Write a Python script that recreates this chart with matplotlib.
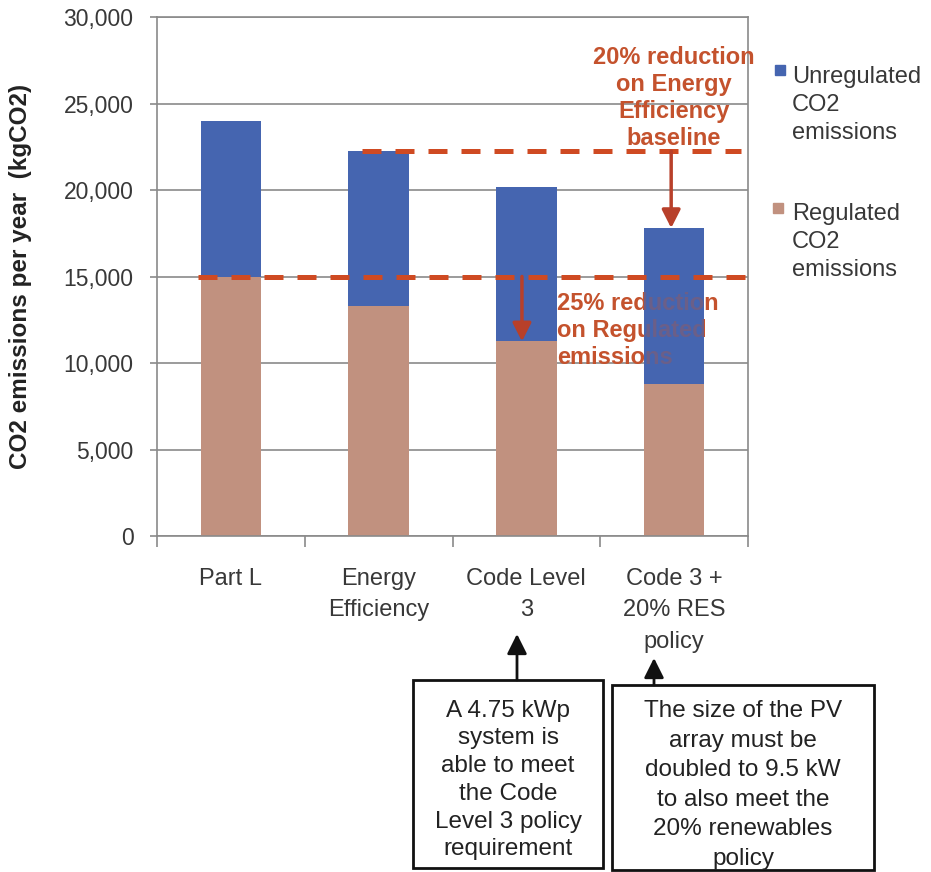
import matplotlib.pyplot as plt
from matplotlib.patches import Rectangle
from matplotlib.ticker import FuncFormatter

plt.rcParams['font.family'] = ['Liberation Sans', 'DejaVu Sans']

# CO2 emissions per year (kgCO2) for each design scenario
scenarios = ["Part L", "Energy\nEfficiency", "Code Level\n3", "Code 3 +\n20% RES\npolicy"]
regulated = [15000, 13300, 11250, 8800]
unregulated = [9000, 8950, 8950, 9000]
series_labels = ["Unregulated\nCO2\nemissions", "Regulated\nCO2\nemissions"]
notes = [
    "A 4.75 kWp\nsystem is\nable to meet\nthe Code\nLevel 3 policy\nrequirement",
    "The size of the PV\narray must be\ndoubled to 9.5 kW\nto also meet the\n20% renewables\npolicy",
]

BLUE = "#4565b0"
TAN = "#c1917f"
RED = "#cf4a22"
RED_TEXT = "#c4522d"
GRID = "#8a8a8a"
INK = "#383838"

W, H = 931, 872


def fx(px):
    return px / W


def fy(py):
    return 1 - py / H


fig = plt.figure(figsize=(W / 100, H / 100), dpi=100)
ax = fig.add_axes([fx(157), fy(536), fx(748) - fx(157), fy(17) - fy(536)])

x = list(range(len(scenarios)))
totals = [r + u for r, u in zip(regulated, unregulated)]
ax.bar(x, regulated, width=0.41, color=TAN, zorder=2)
ax.bar(x, unregulated, width=0.41, bottom=regulated, color=BLUE, zorder=2)

ax.set_xlim(-0.5, 3.5)
ax.set_ylim(0, 30000)
ax.set_yticks(range(0, 30001, 5000))
ax.yaxis.set_major_formatter(FuncFormatter(lambda v, p: f"{v:,.0f}"))
ax.grid(axis="y", color=GRID, lw=1.2, zorder=0)
ax.set_axisbelow(True)
for s in ax.spines.values():
    s.set_color(GRID)
    s.set_linewidth(1.2)

ax.set_xticks(x)
ax.set_xticklabels(scenarios)
ax.set_xticks([i - 0.5 for i in range(len(scenarios) + 1)], minor=True)
ax.tick_params(axis="x", which="major", length=0, pad=23, labelsize=17, labelcolor=INK)
ax.tick_params(axis="x", which="minor", length=8, width=1.2, color=GRID)
ax.tick_params(axis="y", length=5, width=1.2, color=GRID, pad=12, labelsize=16.5, labelcolor=INK)
for t in ax.get_xticklabels():
    t.set_linespacing(1.56)

fig.text(fx(21), fy(276), "CO2 emissions per year  (kgCO2)", rotation=90,
         ha="center", va="center", fontsize=17.5, fontweight="bold", color="#222222")

# baselines: Part L regulated and Energy Efficiency total
ee_total = totals[1]
ax.plot([0.89, 3.45], [ee_total, ee_total], color=RED, lw=3.6, dashes=(3.8, 2.8), zorder=5)
ax.plot([-0.22, 3.48], [regulated[0], regulated[0]], color=RED, lw=3.6, dashes=(3.8, 2.8), zorder=5)

arrow = dict(arrowstyle="-|>,head_length=0.55,head_width=0.28", mutation_scale=20,
             lw=2.5, color="#b8402a", shrinkA=0, shrinkB=0)
ax.annotate("", xy=(2.98, totals[3]), xytext=(2.98, ee_total), arrowprops=arrow, zorder=6)
ax.annotate("", xy=(1.97, regulated[2]), xytext=(1.97, regulated[0]), arrowprops=arrow, zorder=6)

ax.text(3.0, 25300, "20% reduction\non Energy\nEfficiency\nbaseline", ha="center", va="center",
        fontsize=17, fontweight="bold", color=RED_TEXT, linespacing=1.22, zorder=6)
ax.text(2.21, 11900, "25% reduction\non Regulated\nemissions", ha="left", va="center",
        fontsize=17, fontweight="bold", color=RED_TEXT, linespacing=1.22, zorder=3)
# last bar sits partly over the label
ax.bar(x[3], unregulated[3], width=0.41, bottom=regulated[3], color=BLUE, alpha=0.7, zorder=4)

# legend entries beside the plot
for (sx, sy, tx, ty), color, label in zip([(775, 65, 792, 105), (773, 203, 792, 242)],
                                          [BLUE, TAN], series_labels):
    fig.add_artist(Rectangle((fx(sx), fy(sy + 10)), 10 / W, 10 / H, color=color,
                             transform=fig.transFigure))
    fig.text(fx(tx), fy(ty), label, ha="left", va="center", fontsize=17,
             color=INK, linespacing=1.36)

# note boxes with arrows pointing to the scenario labels
boxes = [(413, 680, 603, 868, 517, 634, 780, 1.34),
         (612, 685, 874, 870, 654, 658, 785, 1.44)]
for (x0, y0, x1, y1, ax_x, ay, ty, spacing), note in zip(boxes, notes):
    fig.add_artist(Rectangle((fx(x0), fy(y1)), (x1 - x0) / W, (y1 - y0) / H, fill=False,
                             ec="#111111", lw=2, transform=fig.transFigure))
    fig.text(fx((x0 + x1) / 2), fy(ty), note, ha="center", va="center",
             fontsize=17.5, color="#222222", linespacing=spacing)
    ax.annotate("", xy=(fx(ax_x), fy(ay)), xytext=(fx(ax_x), fy(y0)),
                xycoords="figure fraction", textcoords="figure fraction",
                arrowprops=dict(arrowstyle="-|>,head_length=0.6,head_width=0.3",
                                mutation_scale=20, lw=2, color="#111111",
                                shrinkA=0, shrinkB=0), annotation_clip=False)

fig.savefig("out.png", dpi=100)
